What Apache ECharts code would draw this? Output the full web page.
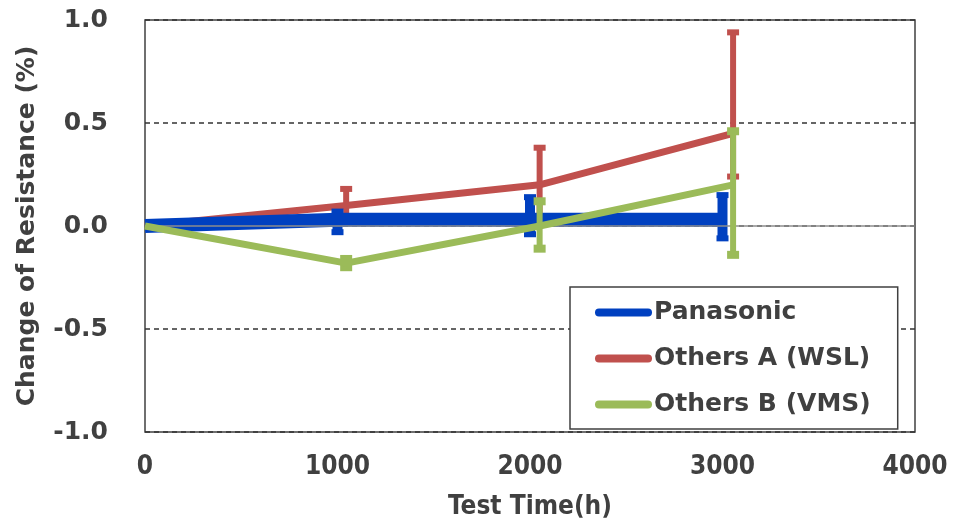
<!DOCTYPE html>
<html><head><meta charset="utf-8">
<script src="https://cdn.jsdelivr.net/npm/echarts@6/dist/echarts.min.js"></script>
<style>html,body{margin:0;padding:0;background:#fff}#c{width:957px;height:525px}</style>
</head><body><div id="c"></div>
<script>
const seriesNames = ['Panasonic', 'Others A (WSL)', 'Others B (VMS)'];
const xTicks = [0, 1000, 2000, 3000, 4000];
const yTicks = [-1.0, -0.5, 0.0, 0.5, 1.0];

const panX = [0, 1000, 2000, 3000];
const panY = [0, 0.03, 0.03, 0.03];
const panLow = [0, -0.03, -0.04, -0.06];
const panHigh = [0, 0.07, 0.14, 0.15];

const aX = [0, 1045, 2050, 3055];
const aY = [0, 0.10, 0.20, 0.45];
const aLow = [0, 0.02, 0.02, 0.24];
const aHigh = [0, 0.18, 0.38, 0.94];

const bX = [0, 1045, 2050, 3055];
const bY = [0, -0.18, 0.0, 0.20];
const bLow = [0, -0.20, -0.11, -0.14];
const bHigh = [0, -0.16, 0.12, 0.46];

const colors = ['#0040C0', '#C0504D', '#9BBB59'];
const txt = '#404040';
const F = 'DejaVu Sans';

function pts(xs, ys) { return xs.map((x, i) => [x, ys[i]]); }
function errData(xs, lo, hi) { return xs.map((x, i) => [x, lo[i], hi[i]]).filter((d, i) => i > 0); }

function errSeries(name, data, color, stemW, capW, capH, z) {
  return {
    name: name, type: 'custom', z: z, silent: true,
    data: data,
    encode: { x: 0, y: [1, 2] },
    renderItem: function (params, api) {
      const x = api.value(0);
      const lo = api.coord([x, api.value(1)]);
      const hi = api.coord([x, api.value(2)]);
      return {
        type: 'group', children: [
          { type: 'line', shape: { x1: lo[0], y1: lo[1], x2: hi[0], y2: hi[1] }, style: { stroke: color, lineWidth: stemW } },
          { type: 'rect', shape: { x: hi[0] - capW / 2, y: hi[1] - capH / 2, width: capW, height: capH }, style: { fill: color } },
          { type: 'rect', shape: { x: lo[0] - capW / 2, y: lo[1] - capH / 2, width: capW, height: capH }, style: { fill: color } }
        ]
      };
    }
  };
}

const pillIcon = 'path://M4,0 H53 A4,4 0 0 1 53,8 H4 A4,4 0 0 1 4,0 Z';

const chart = echarts.init(document.getElementById('c'));
chart.setOption({
  animation: false,
  backgroundColor: '#fff',
  grid: { left: 145, right: 42, top: 20, bottom: 89, show: true, borderColor: '#404040', borderWidth: 1.5, backgroundColor: 'transparent' },
  xAxis: {
    type: 'value', min: xTicks[0], max: xTicks[xTicks.length - 1], interval: 1000,
    name: 'Test Time(h)', nameLocation: 'middle', nameGap: 62,
    nameTextStyle: { fontFamily: 'DejaVu Sans Condensed', fontWeight: 'bold', fontSize: 26, color: txt },
    axisLine: { show: false, onZero: false }, axisTick: { show: false }, splitLine: { show: false },
    axisLabel: { margin: 22, fontFamily: 'DejaVu Sans Condensed', fontWeight: 'bold', fontSize: 26, color: txt, formatter: v => String(v) }
  },
  yAxis: {
    type: 'value', min: yTicks[0], max: yTicks[yTicks.length - 1], interval: 0.5,
    name: 'Change of Resistance (%)', nameLocation: 'middle', nameGap: 105,
    nameTextStyle: { fontFamily: F, fontWeight: 'bold', fontSize: 25, color: txt },
    axisLine: { show: false }, axisTick: { show: false },
    splitLine: { show: true, lineStyle: { color: '#333333', type: [5, 4], width: 1.5 } },
    axisLabel: { margin: 37, fontFamily: F, fontWeight: 'bold', fontSize: 25, color: txt, formatter: v => v.toFixed(1) }
  },
  legend: {
    left: 570, top: 287, orient: 'vertical',
    padding: [13, 27, 12, 25], itemGap: 21,
    borderColor: '#404040', borderWidth: 1.5, borderRadius: 0, backgroundColor: '#fff',
    itemWidth: 57, itemHeight: 8,
    textStyle: { fontFamily: F, fontWeight: 'bold', fontSize: 25, color: txt, padding: [0, 0, 0, -3] },
    data: seriesNames.map((n, i) => ({ name: n, icon: pillIcon, itemStyle: { color: colors[i], opacity: 1, borderWidth: 0 } }))
  },
  series: [
    {
      name: seriesNames[1], type: 'line', data: pts(aX, aY), symbol: 'none', z: 3,
      lineStyle: { color: colors[1], width: 7 }, itemStyle: { color: colors[1] },
      markLine: { silent: true, symbol: 'none', label: { show: false }, lineStyle: { color: '#8c8c8c', type: 'solid', width: 1.5 }, data: [{ yAxis: 0 }] }
    },
    errSeries(seriesNames[1], errData(aX, aLow, aHigh), colors[1], 6, 12, 6, 3),
    { name: seriesNames[0], type: 'line', data: pts(panX, panY), symbol: 'none', z: 4,
      lineStyle: { color: colors[0], width: 14 }, itemStyle: { color: colors[0] } },
    errSeries(seriesNames[0], errData(panX, panLow, panHigh), colors[0], 10, 12, 6, 4),
    { name: seriesNames[2], type: 'line', data: pts(bX, bY), symbol: 'none', z: 5,
      lineStyle: { color: colors[2], width: 7 }, itemStyle: { color: colors[2] } },
    errSeries(seriesNames[2], errData(bX, bLow, bHigh), colors[2], 6, 12, 8, 5)
  ]
});
</script></body></html>
